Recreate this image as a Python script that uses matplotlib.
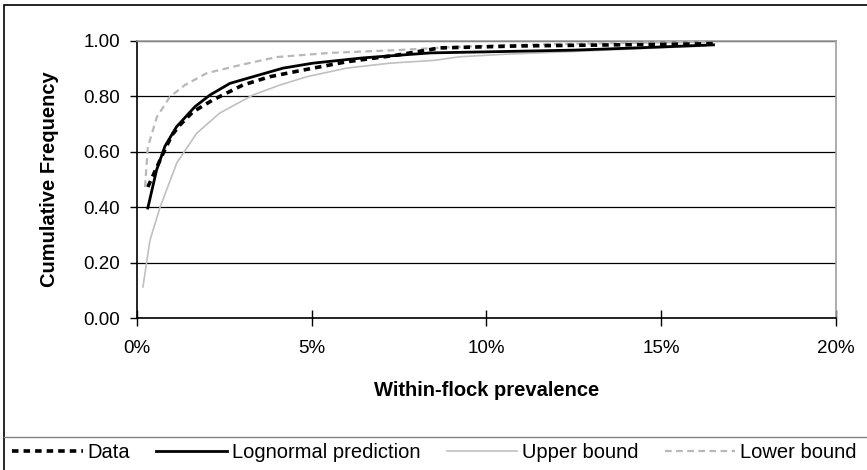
import matplotlib
matplotlib.use("Agg")
import matplotlib.pyplot as plt
from matplotlib.ticker import FuncFormatter
from matplotlib.patches import Rectangle
from matplotlib.lines import Line2D

plt.rcParams["font.family"] = ["Liberation Sans", "DejaVu Sans"]

# ------------------------------------------------
# Data
# ------------------------------------------------
data_x = [0.31, 0.57, 0.75, 1.0, 1.23, 1.6, 2.17, 3.03, 3.8, 4.75, 6.0, 7.44, 8.67, 10.9, 13.0, 16.5]
data_y = [0.473, 0.545, 0.595, 0.66, 0.697, 0.744, 0.787, 0.841, 0.871, 0.895, 0.925, 0.949, 0.975, 0.982, 0.985, 0.99]

logn_x = [0.31, 0.56, 0.8, 1.13, 1.66, 2.09, 2.66, 3.32, 4.18, 5.04, 6.47, 8.4, 10.5, 12.5, 14.5, 16.5]
logn_y = [0.397, 0.534, 0.62, 0.69, 0.763, 0.805, 0.847, 0.871, 0.902, 0.92, 0.939, 0.957, 0.962, 0.967, 0.976, 0.986]

upper_x = [0.17, 0.37, 0.66, 1.14, 1.71, 2.37, 3.32, 4.09, 4.86, 6.0, 7.24, 8.5, 9.24, 10.5, 12.5, 14.7, 16.3]
upper_y = [0.112, 0.28, 0.40, 0.56, 0.667, 0.74, 0.805, 0.841, 0.871, 0.902, 0.92, 0.93, 0.943, 0.952, 0.962, 0.974, 0.982]

lower_x = [0.23, 0.31, 0.57, 0.94, 1.37, 2.0, 2.95, 4.0, 5.52, 7.44, 9.0, 10.5, 12.5, 15.0, 16.3]
lower_y = [0.473, 0.617, 0.726, 0.798, 0.841, 0.884, 0.913, 0.942, 0.957, 0.967, 0.978, 0.985, 0.99, 0.995, 0.997]

x_ticks = [0, 5, 10, 15, 20]
y_ticks = [0.0, 0.2, 0.4, 0.6, 0.8, 1.0]

# ------------------------------------------------
# Figure
# ------------------------------------------------
fig = plt.figure(figsize=(8.67, 4.70), dpi=100)
ax = fig.add_axes([0.158, 0.3234, 0.806, 0.5894])

ax.plot(upper_x, upper_y, color="#c0c0c0", lw=1.2, label="Upper bound", zorder=3)
ax.plot(lower_x, lower_y, color="#b8b8b8", lw=1.6, ls=(0, (3, 2)), label="Lower bound", zorder=3)
ax.plot(logn_x, logn_y, color="black", lw=2.0, label="Lognormal prediction", zorder=4)
ax.plot(data_x, data_y, color="black", lw=2.6, ls=(0, (1.8, 1.4)), label="Data", zorder=5)

ax.set_xlim(0, 20)
ax.set_ylim(0, 1)
ax.set_xticks(x_ticks)
ax.set_yticks(y_ticks)
ax.xaxis.set_major_formatter(FuncFormatter(lambda v, p: f"{v:.0f}%"))
ax.yaxis.set_major_formatter(FuncFormatter(lambda v, p: f"{v:.2f}"))
ax.tick_params(axis="x", direction="inout", length=11, width=1, labelsize=13.5, pad=10)
ax.tick_params(axis="y", direction="out", length=5, width=1, labelsize=13.5, pad=7)

ax.grid(axis="y", color="black", lw=0.9)
ax.set_axisbelow(True)
ax.spines["top"].set_color("#a0a0a0")
ax.spines["right"].set_color("#a0a0a0")
ax.spines["left"].set_color("black")
ax.spines["bottom"].set_color("black")
for s in ax.spines.values():
    s.set_linewidth(1.2)

ax.set_xlabel("Within-flock prevalence", fontsize=14.5, fontweight="bold")
ax.set_ylabel("Cumulative Frequency", fontsize=14.5, fontweight="bold")
ax.xaxis.set_label_coords(0.5, -0.26)
ax.xaxis.label.set_va("center")
ax.yaxis.set_label_coords(-0.1245, 0.5)
ax.yaxis.label.set_va("center")

# outer chart border and legend separator
fig.patches.append(Rectangle((4 / 867, -0.02), 1.0, 1 - 5 / 470 + 0.02, transform=fig.transFigure,
                             fill=False, edgecolor="black", lw=1.2))
fig.lines.append(Line2D([4 / 867, 1.0], [1 - 437 / 470] * 2, transform=fig.transFigure,
                        color="#808080", lw=1.0))

handles, labels = ax.get_legend_handles_labels()
order = [3, 2, 0, 1]
fig.legend([handles[i] for i in order], [labels[i] for i in order], loc="center left",
           bbox_to_anchor=(0.0, 0.037), ncol=4, frameon=False, fontsize=14.5,
           handlelength=3.5, handletextpad=0.25, columnspacing=1.3, borderaxespad=0.2)

plt.savefig("out.png", dpi=100)
